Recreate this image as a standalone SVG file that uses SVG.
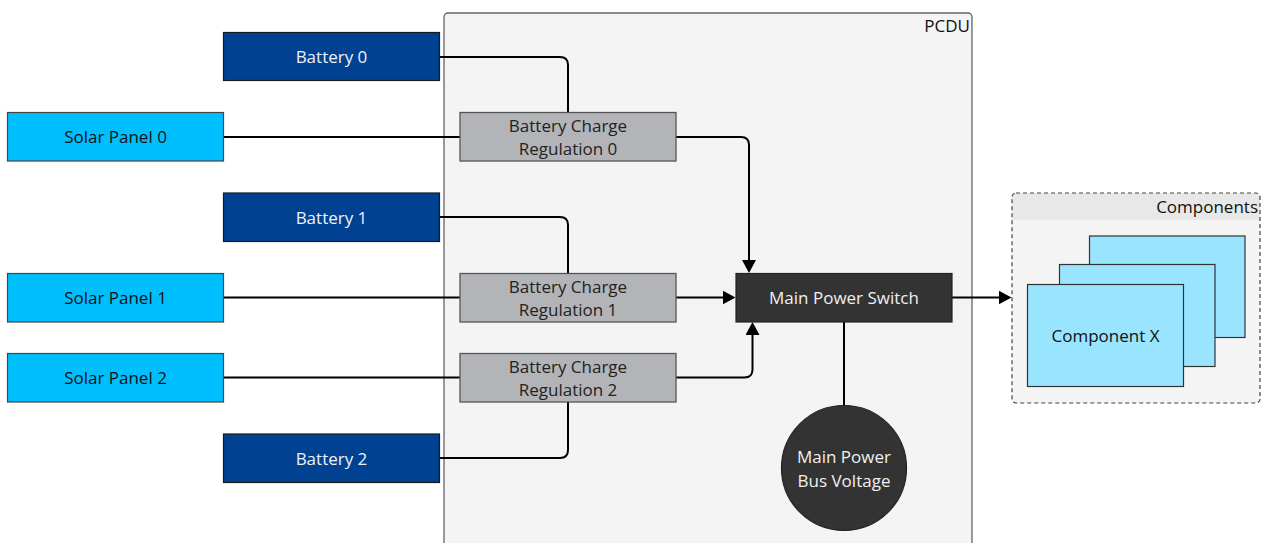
<svg xmlns="http://www.w3.org/2000/svg" width="1261" height="543" viewBox="0 0 1261 543">
<style>
text{font-family:"Open Sans","Noto Sans","Liberation Sans",sans-serif;font-size:17px;text-anchor:middle}
.bat{fill:#004191;stroke:#1a1a1a;stroke-width:1.2}
.bat-t{fill:#eef2f8}
.sp{fill:#00bfff;stroke:#444;stroke-width:1.2}
.sp-t{fill:#111}
.bcr{fill:#b3b4b7;stroke:#555;stroke-width:1.3}
.bcr-t{fill:#222}
.dark{fill:#333333;stroke:#222;stroke-width:1.2}
.dark-t{fill:#f0f0f0}
.comp{fill:#99e4ff;stroke:#333;stroke-width:1.2}
.conn path{fill:none;stroke:#000;stroke-width:2}
</style>
<defs>
<marker id="arr" markerWidth="13" markerHeight="14" refX="9" refY="7" orient="auto" markerUnits="userSpaceOnUse">
<path d="M0,0 L13,7 L0,14 Z" fill="#000"/>
</marker>
</defs>

<g id="pcdu">
<rect x="444" y="13" width="528" height="560" rx="4" fill="#f4f4f4" stroke="#666" stroke-width="1.3"/>
<text x="970" y="32" style="text-anchor:end" fill="#111">PCDU</text>
</g>

<g id="components">
<rect x="1012" y="193" width="248" height="210" rx="4" fill="#f4f4f4"/>
<path d="M1012,220 V197 Q1012,193 1016,193 H1256 Q1260,193 1260,197 V220 Z" fill="#e8e8e8"/>
<rect x="1012" y="193" width="248" height="210" rx="4" fill="none" stroke="#444" stroke-width="1.2" stroke-dasharray="4,3"/>
<text x="1258" y="213" style="text-anchor:end" fill="#111">Components</text>
<rect class="comp" x="1089.5" y="236" width="155.5" height="101.5"/>
<rect class="comp" x="1059.5" y="264.5" width="155.5" height="102"/>
<rect class="comp" x="1027.5" y="284.5" width="156" height="102"/>
<text x="1105.5" y="342" fill="#111">Component X</text>
</g>

<g class="conn" id="connectors">
<path d="M440,57 H560 Q568,57 568,65 V112"/>
<path d="M224,137 H460"/>
<path d="M676,137 H741 Q749,137 749,145 V269" marker-end="url(#arr)"/>
<path d="M440,217 H560 Q568,217 568,225 V273"/>
<path d="M224,297.5 H460"/>
<path d="M676,297.5 H731.5" marker-end="url(#arr)"/>
<path d="M224,377.5 H460"/>
<path d="M676,377.5 H744.5 Q752.5,377.5 752.5,369.5 V326" marker-end="url(#arr)"/>
<path d="M440,458 H560 Q568,458 568,450 V402"/>
<path d="M844,322 V405.5"/>
<path d="M952,297.5 H1007.5" marker-end="url(#arr)"/>
</g>

<g id="battery0"><rect class="bat" x="223.5" y="32.5" width="216" height="48"/><text class="bat-t" x="331.5" y="63">Battery 0</text></g>
<g id="solar0"><rect class="sp" x="7.5" y="112.5" width="216" height="48.5"/><text class="sp-t" x="115.5" y="143">Solar Panel 0</text></g>
<g id="battery1"><rect class="bat" x="223.5" y="193" width="216" height="48.5"/><text class="bat-t" x="331.5" y="223.5">Battery 1</text></g>
<g id="solar1"><rect class="sp" x="7.5" y="273.5" width="216" height="48.5"/><text class="sp-t" x="115.5" y="304">Solar Panel 1</text></g>
<g id="solar2"><rect class="sp" x="7.5" y="353.5" width="216" height="48.5"/><text class="sp-t" x="115.5" y="384">Solar Panel 2</text></g>
<g id="battery2"><rect class="bat" x="223.5" y="434" width="216" height="48.5"/><text class="bat-t" x="331.5" y="464.5">Battery 2</text></g>

<g id="bcr0"><rect class="bcr" x="460" y="112.5" width="216" height="48.5"/><text class="bcr-t" x="568" y="132">Battery Charge</text><text class="bcr-t" x="568" y="155">Regulation 0</text></g>
<g id="bcr1"><rect class="bcr" x="460" y="273.5" width="216" height="48.5"/><text class="bcr-t" x="568" y="293">Battery Charge</text><text class="bcr-t" x="568" y="316">Regulation 1</text></g>
<g id="bcr2"><rect class="bcr" x="460" y="353.5" width="216" height="48.5"/><text class="bcr-t" x="568" y="373">Battery Charge</text><text class="bcr-t" x="568" y="396">Regulation 2</text></g>

<g id="mps"><rect class="dark" x="736" y="273.5" width="216" height="48.5"/><text class="dark-t" x="844" y="304">Main Power Switch</text></g>
<g id="busv"><circle class="dark" cx="844" cy="468" r="62.5"/><text class="dark-t" x="844" y="463">Main Power</text><text class="dark-t" x="844" y="487">Bus Voltage</text></g>
</svg>
